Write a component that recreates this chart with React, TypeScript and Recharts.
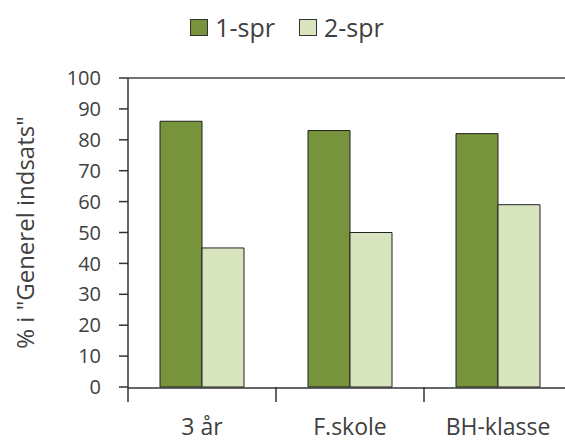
import React from 'react';
import { BarChart, Bar, XAxis, YAxis, ReferenceLine, Legend } from 'recharts';

const categories = ['3 år', 'F.skole', 'BH-klasse'];
const spr1 = [86, 83, 82];
const spr2 = [45, 50, 59];
const yTicks = [0, 10, 20, 30, 40, 50, 60, 70, 80, 90, 100];
const boundaryTicks = [0, 1, 2, 3];

const data = categories.map((c, i) => ({ name: c, idx: i + 0.5, s1: spr1[i], s2: spr2[i] }));

const FONT = '"Open Sans", "Noto Sans", sans-serif';
const TEXT = '#404040';

const LegendContent = (props: any) => {
  const { payload } = props;
  return (
    <div style={{ display: 'flex', justifyContent: 'center', fontFamily: FONT, fontSize: 25, lineHeight: '30px', color: TEXT }}>
      {payload.map((p: any, i: number) => (
        <div key={i} style={{ display: 'flex', alignItems: 'center', marginRight: i === 0 ? 24 : 0 }}>
          <div style={{ width: 16, height: 15, background: p.color, border: '1px solid #333', marginRight: 7 }} />
          <span>{p.value}</span>
        </div>
      ))}
    </div>
  );
};

export default function App() {
  return (
    <div style={{ position: 'absolute', left: 0, top: 0, width: 565, height: 443, overflow: 'hidden', background: '#fff' }}>
      <BarChart
        width={580}
        height={443}
        data={data}
        margin={{ top: 78, right: 8, bottom: 15, left: 0 }}
        barCategoryGap={32}
        barGap={0}
      >
        <Legend
          layout="horizontal"
          verticalAlign="middle"
          align="center"
          content={<LegendContent />}
          wrapperStyle={{ top: 12, left: -4, width: 582 }}
        />
        <XAxis
          xAxisId="a"
          type="number"
          dataKey="idx"
          domain={[0, 3]}
          ticks={boundaryTicks}
          height={1}
          axisLine={false}
          tickSize={15}
          tickLine={{ stroke: '#333', strokeWidth: 1.5 }}
          tickFormatter={() => ''}
        />
        <XAxis
          dataKey="name"
          xAxisId="b"
          height={40}
          tickLine={false}
          axisLine={{ stroke: '#333', strokeWidth: 1.5 }}
          tick={{ fill: TEXT, fontSize: 23, fontFamily: FONT }}
          tickMargin={25}
        />
        <YAxis
          domain={[0, 100]}
          ticks={yTicks}
          interval={0}
          width={128}
          tickSize={9}
          tickMargin={18}
          tickLine={{ stroke: '#333', strokeWidth: 1.5 }}
          axisLine={{ stroke: '#333', strokeWidth: 1.5 }}
          tick={{ fill: TEXT, fontSize: 20, fontFamily: FONT }}
          label={{
            value: '% i "Generel indsats"',
            angle: -90,
            position: 'insideLeft',
            dx: 20,
            style: { fill: TEXT, fontSize: 24, fontFamily: FONT, textAnchor: 'middle' },
          }}
        />
        <ReferenceLine xAxisId="b" y={100} stroke="#444" strokeWidth={1.5} />
        <Bar xAxisId="b" dataKey="s1" name="1-spr" fill="#77933C" stroke="#222" strokeWidth={1} isAnimationActive={false} />
        <Bar xAxisId="b" dataKey="s2" name="2-spr" fill="#D7E4BD" stroke="#222" strokeWidth={1} isAnimationActive={false} />
      </BarChart>
    </div>
  );
}
